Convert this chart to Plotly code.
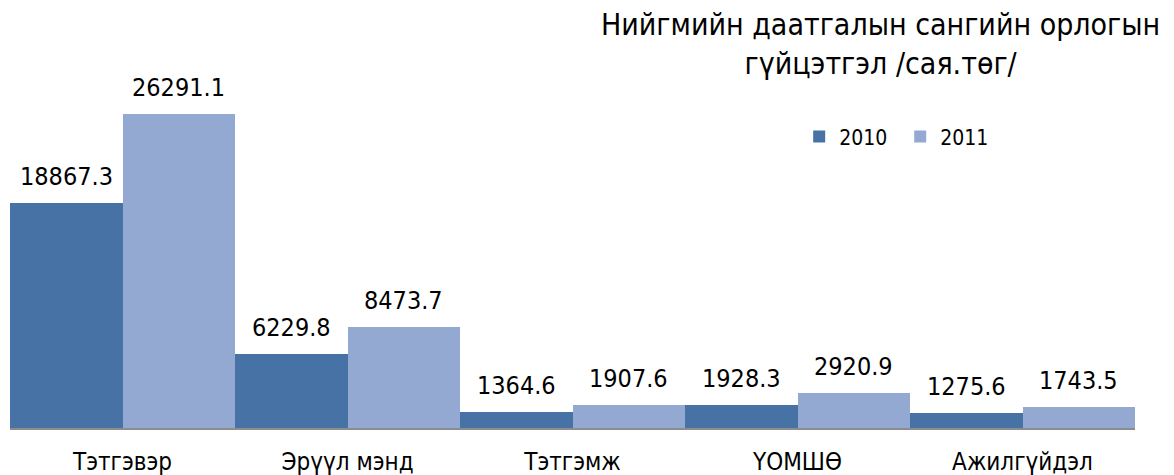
import plotly.graph_objects as go

categories = ["Тэтгэвэр", "Эрүүл мэнд", "Тэтгэмж", "ҮОМШӨ", "Ажилгүйдэл"]
values_2010 = [18867.3, 6229.8, 1364.6, 1928.3, 1275.6]
values_2011 = [26291.1, 8473.7, 1907.6, 2920.9, 1743.5]
series_names = ["2010", "2011"]
title_text = "Нийгмийн даатгалын сангийн орлогын<br>гүйцэтгэл /сая.төг/"

FONT = "DejaVu Sans Condensed, DejaVu Sans, sans-serif"
C2010 = "#4672A6"
C2011 = "#94A9D1"

fig = go.Figure()
fig.add_trace(go.Bar(x=categories, y=values_2010, name=series_names[0],
                     marker=dict(color=C2010, line=dict(width=0))))
fig.add_trace(go.Bar(x=categories, y=values_2011, name=series_names[1],
                     marker=dict(color=C2011, line=dict(width=0))))

# data labels above bars
for vals, off in ((values_2010, -0.25), (values_2011, 0.25)):
    for i, v in enumerate(vals):
        fig.add_annotation(x=i + off, y=v, xref="x", yref="y", text=f"{v:.1f}",
                           showarrow=False, yanchor="bottom", yshift=10,
                           font=dict(family=FONT, size=25, color="#000000"))

fig.add_annotation(x=0.774, y=1.072, xref="paper", yref="paper", text=title_text,
                   showarrow=False, xanchor="center", yanchor="middle",
                   font=dict(family=FONT, size=30, color="#000000"))

# page body has an 8px margin, so the figure is sized to fit the window
fig.update_layout(
    width=1166, height=467,
    margin=dict(l=2, r=39, t=62, b=47, autoexpand=False),
    paper_bgcolor="white", plot_bgcolor="white",
    barmode="group", bargap=0, bargroupgap=0,
    showlegend=True,
    legend=dict(orientation="h", x=0.7015, y=0.813, xanchor="left", yanchor="middle",
                font=dict(family=FONT, size=21, color="#000000"),
                itemwidth=30, entrywidth=56, bgcolor="rgba(0,0,0,0)"),
    font=dict(family=FONT),
)
fig.update_xaxes(range=[-0.5, 4.5], showline=True, linecolor="#8C8C8C", linewidth=2,
                 ticks="", showgrid=False, ticklabelstandoff=11, automargin=False,
                 tickfont=dict(family=FONT, size=24, color="#000000"))
fig.update_yaxes(range=[0, 30000], visible=False, showgrid=False, zeroline=False,
                 automargin=False)

fig.write_html("out.html")
